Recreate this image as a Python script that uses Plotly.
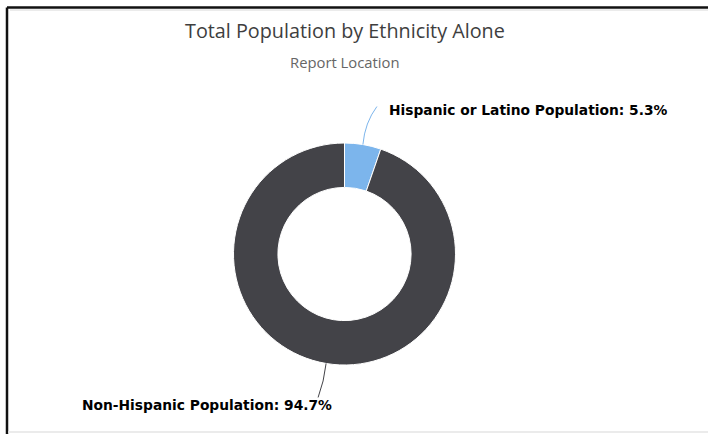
import math
import plotly.graph_objects as go

# Population shares by ethnicity (percent)
categories = ["Hispanic or Latino Population", "Non-Hispanic Population"]
shares = [5.3, 94.7]
colors = ["#7cb5ec", "#434348"]

W, H = 708, 434
CX, CY, R = 344.5, 254.0, 111.0   # donut centre and outer radius, pixels
HOLE = 0.6


def px(x):
    return x / W


def py(y):
    return 1 - y / H


fig = go.Figure(
    go.Pie(
        labels=categories,
        values=shares,
        hole=HOLE,
        sort=False,
        direction="clockwise",
        rotation=0,
        marker=dict(colors=colors, line=dict(color="#ffffff", width=1)),
        textinfo="none",
        hoverinfo="label+percent",
        showlegend=False,
        domain=dict(x=[px(CX - R), px(CX + R)], y=[py(CY + R), py(CY - R)]),
    )
)

# Outside labels with curved connectors that start at each slice's mid-angle
label_style = [
    dict(end=(14, -38), ctrl=(2, -22), anchor="left", text=(10, 3)),
    dict(end=(-8, 34), ctrl=(-2, 18), anchor="right", text=(16, 8)),
]
total = sum(shares)
cum = 0.0
shapes = []
annotations = []
for name, val, st in zip(categories, shares, label_style):
    mid = (cum + val / 2) / total * 2 * math.pi
    cum += val
    x0 = CX + R * math.sin(mid)
    y0 = CY - R * math.cos(mid)
    x1, y1 = x0 + st["end"][0], y0 + st["end"][1]
    cx, cy = x0 + st["ctrl"][0], y0 + st["ctrl"][1]
    shapes.append(dict(
        type="path", xref="paper", yref="paper",
        path=f"M {px(x0)},{py(y0)} Q {px(cx)},{py(cy)} {px(x1)},{py(y1)}",
        line=dict(color="#7cb5ec" if val < 50 else "#434348", width=1),
    ))
    tx = x1 + st["text"][0]
    ty = y1 + st["text"][1]
    annotations.append(dict(
        xref="paper", yref="paper", x=px(tx), y=py(ty),
        text=f"<b>{name}: {val}%</b>", showarrow=False,
        xanchor=st["anchor"], yanchor="middle",
        font=dict(family="Verdana, 'DejaVu Sans', sans-serif", size=13.8, color="#000000"),
    ))

# Titles
annotations.append(dict(
    xref="paper", yref="paper", x=px(CX), y=py(30), xanchor="center", yanchor="middle",
    text="Total Population by Ethnicity Alone", showarrow=False,
    font=dict(family="Open Sans", size=19.8, color="#3e3e3e"),
))
annotations.append(dict(
    xref="paper", yref="paper", x=px(CX), y=py(62), xanchor="center", yanchor="middle",
    text="Report Location", showarrow=False,
    font=dict(family="Open Sans", size=14.8, color="#666666"),
))

# Frame lines around the chart panel
shapes += [
    dict(type="line", xref="paper", yref="paper", x0=px(7), y0=py(7.5), x1=1, y1=py(7.5),
         line=dict(color="#111111", width=2.5)),
    dict(type="line", xref="paper", yref="paper", x0=px(7), y0=py(7.5), x1=px(7), y1=0,
         line=dict(color="#111111", width=2.5)),
    dict(type="line", xref="paper", yref="paper", x0=px(10), y0=py(10), x1=1, y1=py(10),
         line=dict(color="#d8d8d8", width=1)),
    dict(type="line", xref="paper", yref="paper", x0=px(8), y0=py(432), x1=1, y1=py(432),
         line=dict(color="#e4e4e4", width=1.5)),
]

fig.update_layout(
    width=W, height=H,
    margin=dict(l=0, r=0, t=0, b=0),
    paper_bgcolor="#ffffff",
    plot_bgcolor="#ffffff",
    shapes=shapes,
    annotations=annotations,
)

fig.write_html("out.html")
